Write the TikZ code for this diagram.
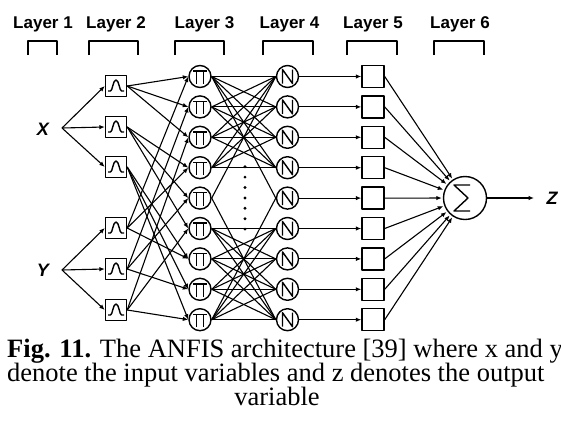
\documentclass[tikz,border=0pt]{standalone}
\usepackage{fontspec}
\setmainfont{Liberation Serif}
\setsansfont{Liberation Sans}
\usetikzlibrary{arrows.meta}

\begin{document}
\begin{tikzpicture}[x=1pt,y=-1pt,line join=round,
  unit/.style={circle,draw,line width=1.4pt,minimum size=22pt,inner sep=0pt},
  mf/.style={rectangle,draw,line width=1.4pt,minimum size=21pt,inner sep=0pt},
  outbox/.style={rectangle,draw,line width=1.4pt,minimum size=22pt,inner sep=0pt},
  sum/.style={circle,draw,line width=1.4pt,minimum size=43pt,inner sep=0pt},
  wire/.style={line width=1.1pt},
  arr/.style={wire,-{Latex[length=5.5pt,width=4.5pt]}},
  glyph/.style={line width=1.4pt},
  head/.style={font=\sffamily\bfseries\fontsize{17}{19}\selectfont,inner sep=0pt,anchor=base},
  var/.style={font=\sffamily\bfseries\itshape\fontsize{18}{20}\selectfont,inner sep=0pt},
  bracket/.style={line width=1.9pt},
  capt/.style={font=\fontsize{26.5}{28}\selectfont,inner sep=0pt}
]
\useasboundingbox (0,0) rectangle (561,426);
\clip (0,0) rectangle (561,426);

% layer headings with their brackets
\foreach \n/\tx/\l/\r in {1/43/28/57, 2/116/89/138, 3/204.5/175/224,
                          4/289.5/263/313, 5/373/347/397, 6/460/434/484}{
  \node[head] (head\n) at (\tx,28) {Layer \n};
  \draw[bracket] (\l,55) -- (\l,41) -- (\r,41) -- (\r,55);
}

% inputs
\node[var] (x) at (43,129) {X};
\node[var] (y) at (43,270) {Y};
\coordinate (xs) at (62,128);
\coordinate (ys) at (62,270);

% layer 2: membership functions
\foreach \i/\yy in {1/86, 2/127, 3/167, 4/228, 5/269, 6/310}{
  \node[mf] (m\i) at (116,\yy) {};
  \draw[glyph] ([shift={(-8,5)}]m\i.center) -- ++(2.5,0)
     .. controls ++(2,0) and ++(-3,0) .. ++(5.5,-11)
     .. controls ++(3,0) and ++(-2,0) .. ++(5.5,11) -- ++(2.5,0);
}
\foreach \i in {1,2,3}{ \draw[arr] (xs) -- (m\i.west); }
\foreach \i in {4,5,6}{ \draw[arr] (ys) -- (m\i.west); }

% layers 3, 4 and 5
\foreach \i in {1,...,9}{
  \pgfmathsetmacro{\yy}{76.5+30.4*(\i-1)}
  \node[unit] (p\i) at (200,\yy) {};
  \draw[glyph] ([shift={(-7,-5.5)}]p\i.center) -- ++(14,0);
  \draw[glyph] ([shift={(-3.7,-5.5)}]p\i.center) -- ++(0,13);
  \draw[glyph] ([shift={(3.7,-5.5)}]p\i.center) -- ++(0,13);
  \node[unit] (n\i) at (287.5,\yy) {};
  \draw[glyph] ([shift={(-5,7)}]n\i.center) -- ++(0,-14) -- ++(10,14) -- ++(0,-14);
  \node[outbox] (s\i) at (373,\yy) {};
}

% rule firing: memberships to product nodes
\foreach \a in {1,2,3}{
  \foreach \b in {1,2,3}{
    \pgfmathtruncatemacro{\k}{3*(\a-1)+\b}
    \pgfmathtruncatemacro{\ym}{3+\b}
    \draw[arr] (m\a.east) -- (p\k.west);
    \draw[arr] (m\ym.east) -- (p\k.west);
  }
}

% normalisation wiring
\foreach \i in {1,...,4}{
  \foreach \j in {1,...,4}{ \draw[wire] (p\i.east) -- (n\j.west); }
}
\foreach \i in {6,...,9}{
  \foreach \j in {6,...,9}{ \draw[wire] (p\i.east) -- (n\j.west); }
}
\draw[wire] (p5.east) -- (n1.west);
\draw[wire] (p5.east) -- (n9.west);
\draw[wire] (p1.east) -- (n5.west);
\draw[wire] (p9.east) -- (n5.west);
\foreach \d in {0,...,6}{ \fill (245,166.7+10.4*\d) circle (1.6); }

% consequents and output sum
\node[sum] (sig) at (465,198) {};
\draw[glyph] ([shift={(5,-13)}]sig.center) -- ++(-16,0) -- ++(14,13) -- ++(-14,13) -- ++(16,0);
\foreach \i in {1,...,9}{
  \draw[arr] (n\i.east) -- (s\i.west);
  \draw[arr,shorten >=1pt] (s\i.east) -- (sig);
}
\coordinate (zt) at (534,198);
\draw[arr] (sig.east) -- (zt);
\node[var] (z) at (552,198) {Z};

% caption
\node[capt,anchor=base west] (cap1) at (7,357) {\textbf{Fig. 11.} The ANFIS architecture [39] where x and y};
\node[capt,anchor=base west] (cap2) at (7,381) {denote the input variables and z denotes the output};
\node[capt,anchor=base] (cap3) at (277,405) {variable};
\end{tikzpicture}
\end{document}
